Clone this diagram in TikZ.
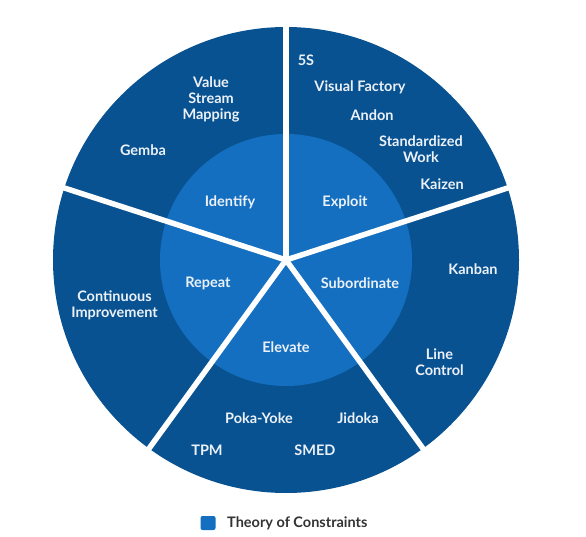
\documentclass[tikz,border=0pt]{standalone}
\usepackage{fontspec}
\setmainfont{Lato}
\definecolor{outerblue}{RGB}{8,82,146}
\definecolor{innerblue}{RGB}{20,111,192}
\definecolor{legendtext}{RGB}{51,51,51}
\definecolor{lbltext}{RGB}{236,241,247}
\begin{document}
\begin{tikzpicture}[x=1pt,y=-1pt,
  lbl/.style={text=lbltext,font=\bfseries\fontsize{14.5}{16}\selectfont,align=center,inner sep=0pt},
  sep/.style={white,line width=5.5pt}]
\useasboundingbox (0,0) rectangle (586,537);
\coordinate (c) at (286,260);
\fill[outerblue] (c) circle[radius=233];
\fill[innerblue] (c) circle[radius=126];
\foreach \a in {-90,-18,54,126,-162} \draw[sep] (c) -- ++(\a:240);
% inner labels
\node[lbl] (identify) at (230,202) {Identify};
\node[lbl] (exploit) at (345,202) {Exploit};
\node[lbl] (repeat) at (208,283) {Repeat};
\node[lbl] (subord) at (360,283) {Subordinate};
\node[lbl] (elevate) at (286,347) {Elevate};
% outer labels
\node[lbl] (vsm) at (211,99) {Value\\Stream\\Mapping};
\node[lbl] (gemba) at (143,150) {Gemba};
\node[lbl] (fives) at (306,60) {5S};
\node[lbl] (visual) at (360,87) {Visual Factory};
\node[lbl] (andon) at (372,115) {Andon};
\node[lbl] (stdwork) at (421,149.5) {Standardized\\Work};
\node[lbl] (kaizen) at (442,184) {Kaizen};
\node[lbl] (kanban) at (473,269) {Kanban};
\node[lbl] (linectl) at (439.5,362.5) {Line\\Control};
\node[lbl] (contimp) at (114.5,305) {Continuous\\Improvement};
\node[lbl] (poka) at (259,418) {Poka-Yoke};
\node[lbl] (jidoka) at (358,418) {Jidoka};
\node[lbl] (tpm) at (207,450) {TPM};
\node[lbl] (smed) at (315,450) {SMED};
% legend
\node[fill=innerblue,rounded corners=2pt,minimum width=15pt,minimum height=14pt,inner sep=0pt] (legsq) at (208,523) {};
\node[anchor=west,text=legendtext,font=\bfseries\fontsize{14.5}{16}\selectfont,inner sep=0pt] (legtx) at (227,523) {Theory of Constraints};
\end{tikzpicture}
\end{document}
